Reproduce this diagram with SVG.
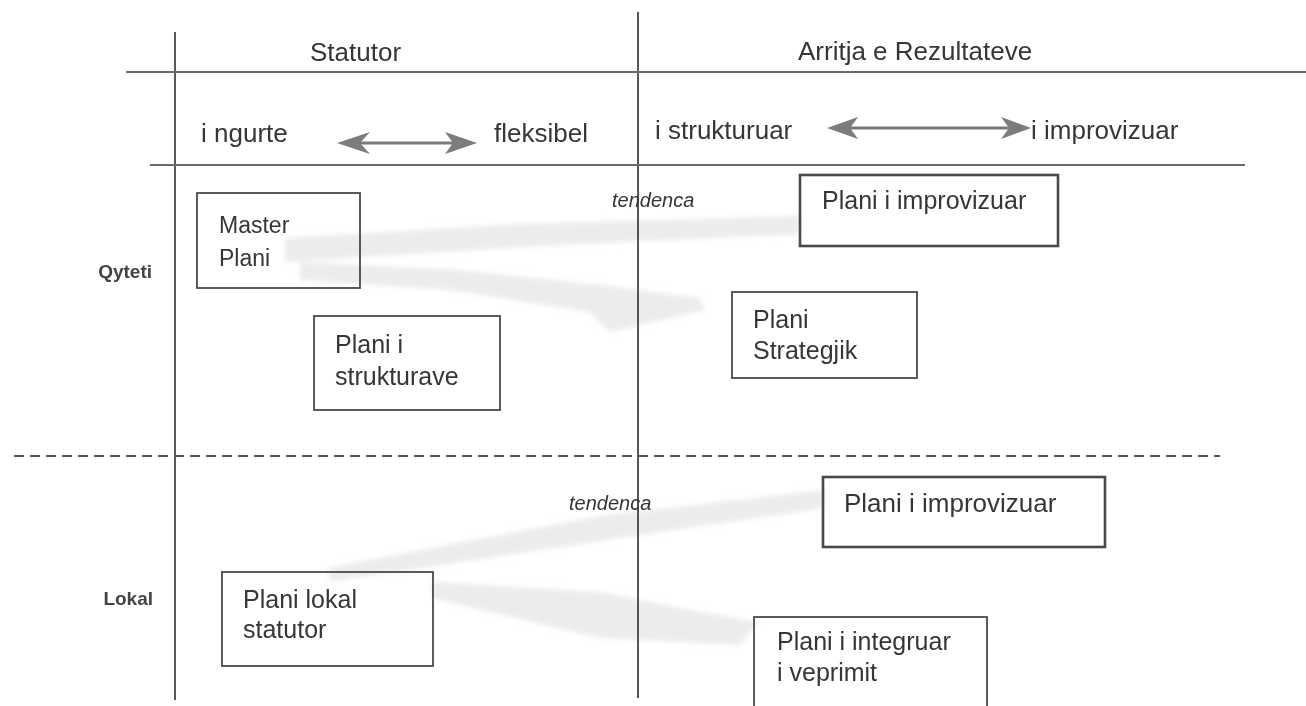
<svg xmlns="http://www.w3.org/2000/svg" width="1306" height="706" viewBox="0 0 1306 706">
<style>
.t{font-family:"Liberation Sans",Arial,sans-serif;fill:#363636;}
.h{font-size:26px;}
.b{font-size:25px;}
.it{font-size:20px;font-style:italic;}
.lab{font-size:19px;font-weight:bold;text-anchor:end;fill:#444;}
.ln{stroke:#444;stroke-width:1.8;fill:none;}
.hl{stroke:#6a6a6a;stroke-width:2;fill:none;}
.box{stroke:#4a4a4a;stroke-width:1.8;fill:none;}
.boxk{stroke:#4a4a4a;stroke-width:2.6;fill:none;}
.shaft{stroke:#7a7a7a;stroke-width:2.8;fill:none;}
.head{fill:#7c7c7c;}
.tend{fill:#e4e4e4;opacity:0.7;}
</style>
<defs>
<filter id="soft" x="-5%" y="-20%" width="110%" height="140%"><feGaussianBlur stdDeviation="2.5"/></filter>
</defs>
<rect width="1306" height="706" fill="#fff"/>
<g id="tendency" filter="url(#soft)">
<polygon class="tend" points="285,238 520,224 800,216 800,234 540,246 285,262"/>
<polygon class="tend" points="300,262 460,270 600,285 700,298 705,310 610,332 590,312 450,290 300,280"/>
<polygon class="tend" points="328,568 600,516 824,490 824,508 620,538 330,582"/>
<polygon class="tend" points="432,582 600,592 700,612 758,622 740,645 600,638 432,598"/>
</g>
<g id="grid">
<line class="ln" x1="175" y1="32" x2="175" y2="700"/>
<line class="ln" x1="638" y1="12" x2="638" y2="698"/>
<line class="hl" x1="126" y1="72" x2="1306" y2="72"/>
<line class="hl" x1="150" y1="165" x2="1245" y2="165"/>
<line x1="14" y1="456" x2="1220" y2="456" stroke="#555" stroke-width="2" stroke-dasharray="10,6"/>
</g>
<g id="headers">
<text class="t h" x="310" y="61">Statutor</text>
<text class="t h" x="798" y="60">Arritja e Rezultateve</text>
<text class="t h" x="201" y="142">i ngurte</text>
<text class="t h" x="494" y="142">fleksibel</text>
<text class="t h" x="655" y="139">i strukturuar</text>
<text class="t h" x="1031" y="139">i improvizuar</text>
<text class="t lab" x="152" y="278">Qyteti</text>
<text class="t lab" x="153" y="605">Lokal</text>
</g>
<g id="connectors">
<line class="shaft" x1="355" y1="143" x2="458" y2="143"/>
<path class="head" d="M337,143 L370,132 L360,143 L370,154 Z"/>
<path class="head" d="M477,143 L445,132 L453,143 L445,154 Z"/>
<line class="shaft" x1="845" y1="128" x2="1012" y2="128"/>
<path class="head" d="M827,128 L858,117 L850,128 L858,139 Z"/>
<path class="head" d="M1031,128 L1001,117 L1009,128 L1001,139 Z"/>
<text class="t it" x="612" y="207">tendenca</text>
<text class="t it" x="569" y="510">tendenca</text>
</g>
<g id="master-plani">
<rect class="box" x="197" y="193" width="163" height="95"/>
<text class="t" font-size="23" x="219" y="233">Master</text>
<text class="t" font-size="23" x="219" y="266">Plani</text>
</g>
<g id="plani-strukturave">
<rect class="box" x="314" y="316" width="186" height="94"/>
<text class="t b" x="335" y="353">Plani i</text>
<text class="t b" x="335" y="385">strukturave</text>
</g>
<g id="plani-improvizuar-1">
<rect class="boxk" x="800" y="175" width="258" height="71"/>
<text class="t b" x="822" y="209">Plani i improvizuar</text>
</g>
<g id="plani-strategjik">
<rect class="box" x="732" y="292" width="185" height="86"/>
<text class="t b" x="753" y="328">Plani</text>
<text class="t b" x="753" y="359">Strategjik</text>
</g>
<g id="plani-improvizuar-2">
<rect class="boxk" x="823" y="477" width="282" height="70"/>
<text class="t h" x="844" y="512">Plani i improvizuar</text>
</g>
<g id="plani-lokal">
<rect class="box" x="222" y="572" width="211" height="94"/>
<text class="t b" x="243" y="608">Plani lokal</text>
<text class="t b" x="243" y="638">statutor</text>
</g>
<g id="plani-integruar">
<rect class="box" x="754" y="617" width="233" height="110"/>
<text class="t b" x="777" y="650">Plani i integruar</text>
<text class="t b" x="777" y="681">i veprimit</text>
</g>
</svg>
